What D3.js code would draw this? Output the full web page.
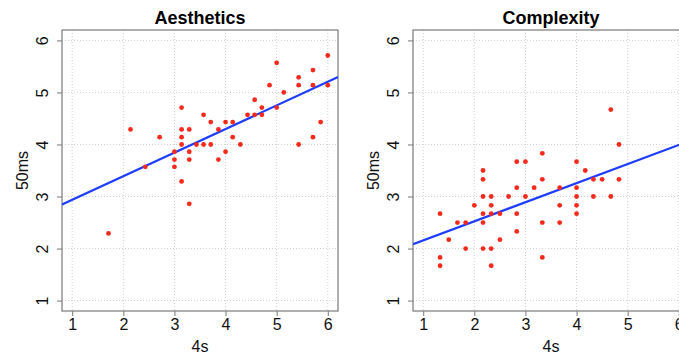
<!DOCTYPE html>
<html>
<head>
<meta charset="utf-8">
<script src="https://cdn.jsdelivr.net/npm/d3@7/dist/d3.min.js"></script>
<style>
  body { margin: 0; background: #fff; }
  text { font-family: "Liberation Sans", Arial, Helvetica, sans-serif; }
</style>
</head>
<body>
<svg id="chart" width="679" height="354"></svg>
<script>
// chart values
const tickValues = [1, 2, 3, 4, 5, 6]
const axisDomain = [0.8, 6.2]

const aestheticsX = [1.71, 2.14, 2.43, 2.71, 3.00, 3.00, 3.00, 3.14, 3.14, 3.14, 3.14, 3.14,
  3.29, 3.29, 3.29, 3.29, 3.43, 3.57, 3.57, 3.71, 3.71, 3.86, 3.86, 4.00, 4.00, 4.14, 4.14,
  4.29, 4.43, 4.57, 4.57, 4.71, 4.71, 4.86, 5.00, 5.00, 5.14, 5.43, 5.43, 5.43, 5.71, 5.71,
  5.71, 5.86, 6.00, 6.00]
const aestheticsY = [2.29, 4.29, 3.57, 4.14, 3.86, 3.71, 3.57, 4.71, 4.29, 4.14, 4.00, 3.29,
  4.29, 3.86, 3.71, 2.86, 4.00, 4.57, 4.00, 4.43, 4.00, 4.29, 3.71, 4.43, 3.86, 4.43, 4.14,
  4.00, 4.57, 4.86, 4.57, 4.71, 4.57, 5.14, 5.57, 4.71, 5.00, 5.29, 5.14, 4.00, 5.43, 5.14,
  4.14, 4.43, 5.71, 5.14]
const aestheticsFit = [2.486, 0.453] // intercept, slope

const complexityX = [1.33, 1.33, 1.33, 1.50, 1.67, 1.83, 1.83, 2.00, 2.17, 2.17, 2.17, 2.17,
  2.17, 2.17, 2.33, 2.33, 2.33, 2.33, 2.33, 2.50, 2.50, 2.67, 2.83, 2.83, 2.83, 2.83, 3.00,
  3.00, 3.17, 3.33, 3.33, 3.33, 3.33, 3.67, 3.67, 3.67, 4.00, 4.00, 4.00, 4.00, 4.00, 4.17,
  4.33, 4.33, 4.50, 4.67, 4.67, 4.83, 4.83]
const complexityY = [2.67, 1.83, 1.67, 2.17, 2.50, 2.50, 2.00, 2.83, 3.50, 3.33, 3.00, 2.67,
  2.50, 2.00, 3.00, 2.83, 2.67, 2.00, 1.67, 2.67, 2.17, 3.00, 3.67, 3.17, 2.67, 2.33, 3.67,
  3.00, 3.17, 3.83, 3.33, 2.50, 1.83, 3.17, 2.83, 2.50, 3.67, 3.17, 3.00, 2.83, 2.67, 3.50,
  3.33, 3.00, 3.33, 4.67, 3.00, 4.00, 3.33]
const complexityFit = [1.79, 0.367]

const svg = d3.select('#chart')
const panelW = 276
const panelH = 281

function drawPanel(left, top, title, xs, ys, fit) {
  const x = d3.scaleLinear().domain(axisDomain).range([0, panelW])
  const y = d3.scaleLinear().domain(axisDomain).range([panelH, 0])
  const g = svg.append('g').attr('transform', `translate(${left}, ${top})`)

  // grid
  g.append('g').selectAll('line').data(tickValues).join('line')
    .attr('x1', d => x(d)).attr('x2', d => x(d))
    .attr('y1', 0).attr('y2', panelH)
    .attr('stroke', '#d0d0d0').attr('stroke-dasharray', '1,2')
  g.append('g').selectAll('line').data(tickValues).join('line')
    .attr('y1', d => y(d)).attr('y2', d => y(d))
    .attr('x1', 0).attr('x2', panelW)
    .attr('stroke', '#d0d0d0').attr('stroke-dasharray', '1,2')

  // axes
  const xAxis = g.append('g')
    .attr('transform', `translate(0, ${panelH})`)
    .call(d3.axisBottom(x).tickValues(tickValues).tickSize(5).tickPadding(3).tickFormat(d3.format('d')))
  const yAxis = g.append('g')
    .call(d3.axisLeft(y).tickValues(tickValues).tickSize(5).tickFormat(d3.format('d')))
  for (const ax of [xAxis, yAxis]) {
    ax.select('.domain').remove()
    ax.selectAll('line').attr('stroke', '#777')
    ax.selectAll('text').attr('fill', '#111').style('font-size', '16px')
      .style('font-family', '"Liberation Sans", Arial, sans-serif')
  }
  yAxis.selectAll('text')
    .attr('x', 0).attr('dy', 0)
    .attr('text-anchor', 'middle')
    .attr('transform', 'translate(-14, 0) rotate(-90)')

  // box
  g.append('rect').attr('width', panelW).attr('height', panelH)
    .attr('fill', 'none').attr('stroke', '#7a7a7a').attr('stroke-width', 1.2)

  // regression line
  const clipId = 'clip-' + title
  g.append('clipPath').attr('id', clipId)
    .append('rect').attr('width', panelW).attr('height', panelH)
  g.append('line')
    .attr('clip-path', `url(#${clipId})`)
    .attr('x1', x(axisDomain[0])).attr('y1', y(fit[0] + fit[1] * axisDomain[0]))
    .attr('x2', x(axisDomain[1])).attr('y2', y(fit[0] + fit[1] * axisDomain[1]))
    .attr('stroke', '#1f3dff').attr('stroke-width', 2.2)

  // points
  g.append('g').selectAll('circle').data(xs).join('circle')
    .attr('cx', d => x(d))
    .attr('cy', (d, i) => y(ys[i]))
    .attr('r', 2.4)
    .attr('fill', '#f52a1c')

  // labels
  g.append('text').attr('x', panelW / 2).attr('y', -6)
    .attr('text-anchor', 'middle').attr('font-weight', 'bold')
    .attr('font-size', 18).attr('fill', '#000').text(title)
  g.append('text').attr('x', panelW / 2).attr('y', panelH + 41)
    .attr('text-anchor', 'middle').attr('font-size', 16).attr('fill', '#111').text('4s')
  g.append('text')
    .attr('transform', `translate(-34, ${panelH / 2}) rotate(-90)`)
    .attr('text-anchor', 'middle').attr('font-size', 16).attr('fill', '#111').text('50ms')
}

drawPanel(62, 30, 'Aesthetics', aestheticsX, aestheticsY, aestheticsFit)
drawPanel(413, 30, 'Complexity', complexityX, complexityY, complexityFit)
</script>
</body>
</html>
